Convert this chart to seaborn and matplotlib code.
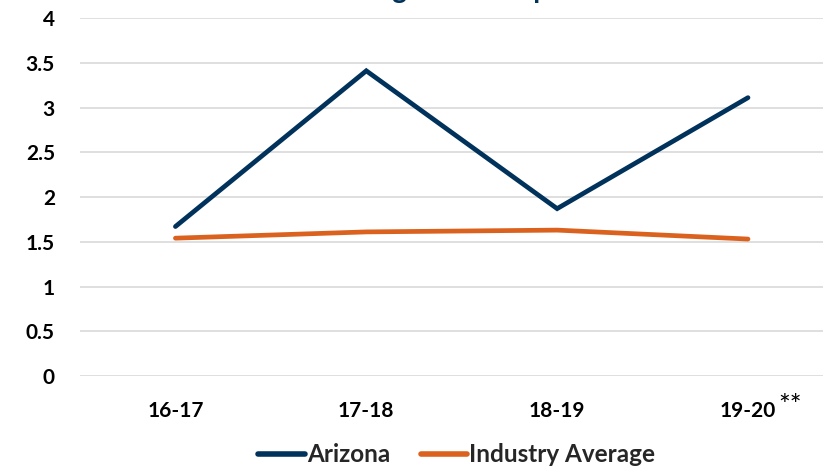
import matplotlib
matplotlib.use("Agg")
import matplotlib.pyplot as plt
import pandas as pd
import seaborn as sns

seasons = ["16-17", "17-18", "18-19", "19-20"]
arizona = [1.67, 3.41, 1.87, 3.11]
industry_avg = [1.54, 1.61, 1.63, 1.53]
y_ticks = [0, 0.5, 1, 1.5, 2, 2.5, 3, 3.5, 4]
y_tick_labels = ["0", "0.5", "1", "1.5", "2", "2.5", "3", "3.5", "4"]

df = pd.DataFrame({
    "season": seasons * 2,
    "rate": arizona + industry_avg,
    "series": ["Arizona"] * len(seasons) + ["Industry Average"] * len(seasons),
})

sns.set_style("white")
plt.rcParams["font.family"] = ["Lato", "DejaVu Sans"]

fig = plt.figure(figsize=(8.23, 4.70), dpi=100)
ax = fig.add_axes([0.0972, 0.2, 0.9028, 0.7617])

palette = {"Arizona": "#00325B", "Industry Average": "#DA621E"}
sns.lineplot(data=df, x="season", y="rate", hue="series", palette=palette,
             linewidth=3.4, sort=False, ax=ax, legend=True)
for line in ax.get_lines():
    line.set_solid_capstyle("round")
    line.set_solid_joinstyle("miter")

ax.set_ylim(0, 4)
ax.set_xlim(-0.5, 3.393)
ax.set_yticks(y_ticks)
ax.set_yticklabels(y_tick_labels)
ax.yaxis.grid(True, color="#D9D9D9", linewidth=1.2)
ax.set_axisbelow(True)
for s in ax.spines.values():
    s.set_visible(False)
ax.tick_params(axis="both", length=0, labelsize=15, colors="black")
ax.tick_params(axis="y", pad=18)
ax.tick_params(axis="x", pad=18)
for lab in ax.get_xticklabels() + ax.get_yticklabels():
    lab.set_fontweight("bold")
ax.set_xlabel("")
ax.set_ylabel("")

# footnote marker next to the last season
ax.annotate("**", xy=(3, 0), xycoords=("data", "axes fraction"),
            xytext=(22, -13), textcoords="offset points",
            fontsize=20, ha="left", va="top", color="black")

handles, labels = ax.get_legend_handles_labels()
leg = ax.legend(handles, labels, loc="center", bbox_to_anchor=(0.555, 0.032),
                bbox_transform=fig.transFigure, ncol=2, frameon=False,
                handlelength=1.9, handletextpad=0.1, columnspacing=1.25,
                borderpad=0.1, prop={"weight": "bold", "size": 17.5})
for h in leg.get_lines():
    h.set_linewidth(4.0)
    h.set_solid_capstyle("round")

fig.text(0.52, 0.9936, "Breakdowns Including Fatalities per 1000 starts",
         ha="center", va="bottom", fontsize=20, fontweight="bold", color="#00325B")

fig.savefig("out.png", dpi=100)
